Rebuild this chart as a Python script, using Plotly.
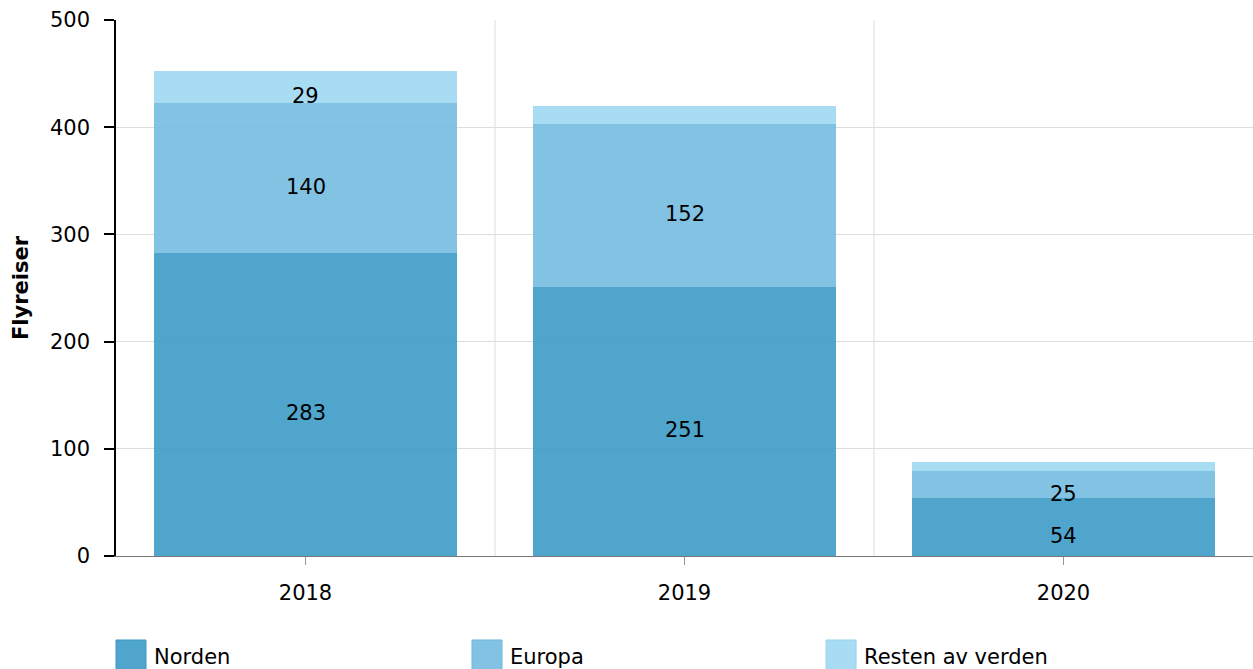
import plotly.graph_objects as go

years = ["2018", "2019", "2020"]
norden = [283, 251, 54]
europa = [140, 152, 25]
resten = [29, 17, 9]
series_names = ["Norden", "Europa", "Resten av verden"]
series_colors = ["rgba(60,155,199,0.9)", "rgba(116,188,225,0.9)", "rgba(159,216,242,0.9)"]
legend_borders = ["#3d97c2", "#6fb6db", "#98d2ee"]
y_ticks = [0, 100, 200, 300, 400, 500]

FONT = "DejaVu Sans"
FS = 21

fig = go.Figure()
annotations = []
base = [0] * len(years)
for name, vals, col in zip(series_names, [norden, europa, resten], series_colors):
    fig.add_trace(go.Bar(
        x=years, y=vals, name=name,
        marker=dict(color=col, line=dict(width=0)),
        width=0.8, showlegend=False, hoverinfo="x+y+name",
    ))
    # value labels (only for segments large enough), slightly below segment center
    for i, v in enumerate(vals):
        if v >= 20:
            annotations.append(dict(x=i, y=base[i] + v / 2, xref="x", yref="y",
                                    text=str(v), showarrow=False, yshift=-9,
                                    font=dict(family=FONT, size=FS, color="black")))
        base[i] += v

# vertical grid lines at category boundaries
shapes = []
for i in range(len(years) - 1):
    shapes.append(dict(type="line", xref="x", yref="paper", x0=i + 0.5, x1=i + 0.5,
                       y0=0, y1=1, line=dict(color="#dddddd", width=1), layer="below"))

# custom legend (large square swatches)
leg_x = [0.0, 0.3131, 0.6245]
for lx, name, col, bc in zip(leg_x, series_names, series_colors, legend_borders):
    shapes.append(dict(type="rect", xref="paper", yref="paper",
                       x0=lx, x1=lx + 30 / 1137, y0=-0.1567, y1=-0.2127,
                       fillcolor=col, line=dict(color=bc, width=1)))
    annotations.append(dict(xref="paper", yref="paper", x=lx + 36 / 1137, y=-0.188,
                            text=name, showarrow=False, xanchor="left", yanchor="middle",
                            font=dict(family=FONT, size=FS, color="black")))

fig.update_layout(
    barmode="stack",
    width=1253, height=669,
    margin=dict(l=116, r=0, t=20, b=113),
    paper_bgcolor="white", plot_bgcolor="white",
    font=dict(family=FONT, size=FS, color="black"),
    shapes=shapes, annotations=annotations,
    showlegend=False,
)
fig.update_xaxes(
    type="category", range=[-0.5, 2.5],
    showline=True, linecolor="#777777", linewidth=1,
    ticks="outside", ticklen=8, tickcolor="#999999", tickwidth=1,
    showgrid=False, ticklabelstandoff=10,
    tickfont=dict(family=FONT, size=FS, color="black"),
)
fig.update_yaxes(
    range=[0, 500], tickvals=y_ticks,
    showline=True, linecolor="black", linewidth=1.5,
    ticks="outside", ticklen=10, tickcolor="black", tickwidth=1.5,
    showgrid=True, gridcolor="#dddddd", gridwidth=1,
    zeroline=False, ticklabelstandoff=10,
    tickfont=dict(family=FONT, size=FS, color="black"),
    title=dict(text="<b>Flyreiser</b>", font=dict(family=FONT, size=FS, color="black"), standoff=16),
)

fig.write_html("out.html", config={"displayModeBar": False},
               post_script="document.body.style.margin='0';")
